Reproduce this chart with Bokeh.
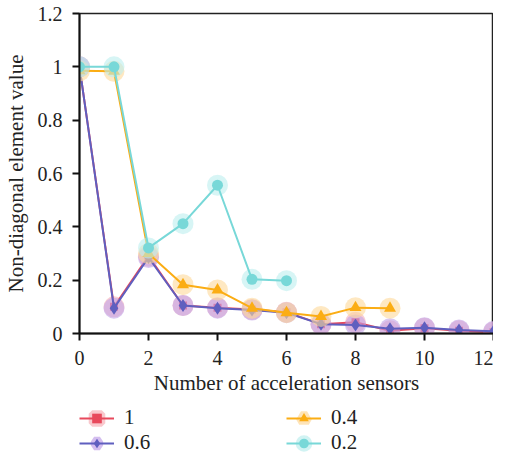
from bokeh.plotting import figure
from bokeh.layouts import column
from bokeh.models import Range1d, FixedTicker, Legend, LegendItem, ColumnDataSource
from bokeh.embed import file_html
from bokeh.resources import INLINE

# ---- data ----
x_all = [0, 1, 2, 3, 4, 5, 6, 7, 8, 9, 10, 11, 12]
y_1 = [1.0, 0.10, 0.29, 0.105, 0.097, 0.09, 0.08, 0.035, 0.042, 0.01, 0.02, 0.01, 0.005]
y_06 = [1.0, 0.095, 0.285, 0.105, 0.095, 0.088, 0.078, 0.035, 0.032, 0.018, 0.022, 0.013, 0.008]
x_04 = [0, 1, 2, 3, 4, 5, 6, 7, 8, 9]
y_04 = [0.985, 0.983, 0.30, 0.183, 0.163, 0.095, 0.078, 0.064, 0.097, 0.095]
x_02 = [0, 1, 2, 3, 4, 5, 6]
y_02 = [1.0, 1.0, 0.321, 0.412, 0.556, 0.203, 0.198]

series_labels = ["1", "0.6", "0.4", "0.2"]
x_ticks = [0, 2, 4, 6, 8, 10, 12]
x_tick_labels = ["0", "2", "4", "6", "8", "10", "12"]
y_ticks = [0, 0.2, 0.4, 0.6, 0.8, 1.0, 1.2]
y_tick_labels = ["0", "0.2", "0.4", "0.6", "0.8", "1", "1.2"]

FONT = "Liberation Serif"

p = figure(frame_width=414, frame_height=320, output_backend="svg", toolbar_location=None,
           x_range=Range1d(0, 12), y_range=Range1d(0, 1.2),
           min_border_left=77, min_border_right=0, min_border_top=13, min_border_bottom=0)
p.grid.visible = False
p.outline_line_color = "#222222"
p.outline_line_width = 1.5
p.background_fill_color = "white"
p.border_fill_color = "white"

for ax in (p.xaxis[0], p.yaxis[0]):
    ax.axis_line_color = "#111111"
    ax.axis_line_width = 2
    ax.major_tick_line_color = "#111111"
    ax.major_tick_line_width = 2
    ax.major_tick_out = 7
    ax.major_tick_in = 0
    ax.minor_tick_line_color = None
    ax.major_label_text_font = FONT
    ax.major_label_text_font_size = "20px"
    ax.major_label_text_color = "#222222"
    ax.axis_label_text_font = FONT
    ax.axis_label_text_font_size = "21px"
    ax.axis_label_text_font_style = "normal"
    ax.axis_label_text_color = "#222222"

p.xaxis[0].ticker = FixedTicker(ticks=x_ticks)
p.xaxis[0].major_label_overrides = {t: l for t, l in zip(x_ticks, x_tick_labels)}
p.yaxis[0].ticker = FixedTicker(ticks=y_ticks)
p.yaxis[0].major_label_overrides = {t: l for t, l in zip(y_ticks, y_tick_labels)}
p.xaxis[0].axis_label = "Number of acceleration sensors"
p.yaxis[0].axis_label = "Non-diagonal element value"
p.xaxis[0].major_label_standoff = 10
p.xaxis[0].axis_label_standoff = 3
p.yaxis[0].major_label_standoff = 10
p.yaxis[0].axis_label_standoff = 7

specs = [
    (x_all, y_1, "#e8495c", "#f6b0b8", "square", 8),
    (x_all, y_06, "#5f5fbf", "#c2a3e8", "diamond", 13),
    (x_04, y_04, "#fbad14", "#fdd99a", "triangle", 12),
    (x_02, y_02, "#78d8d8", "#bdeeee", "circle", 11),
]

# legend strip below the chart (its ranges keep the series out of view)
lf = figure(width=491, height=58, output_backend="svg", toolbar_location=None,
            x_range=Range1d(-30, -20), y_range=Range1d(-30, -20),
            x_axis_type=None, y_axis_type=None,
            min_border_left=77, min_border_right=0, min_border_top=8, min_border_bottom=2)
lf.grid.visible = False
lf.outline_line_color = None

items = []
for (xs, ys, col, halo, mk, ms), lab in zip(specs, series_labels):
    src = ColumnDataSource(dict(x=xs, y=ys))
    p.scatter("x", "y", source=src, marker="circle", size=21,
              fill_color=halo, fill_alpha=0.6, line_color=None)
    p.line("x", "y", source=src, line_color=col, line_width=2)
    p.scatter("x", "y", source=src, marker=mk, size=ms, fill_color=col, line_color=None)

    l_halo = lf.scatter("x", "y", source=src, marker=mk, fill_color=halo,
                        fill_alpha=0.7, line_color=halo, line_width=7, line_alpha=0.7)
    l_line = lf.line("x", "y", source=src, line_color=col, line_width=2)
    l_mk = lf.scatter("x", "y", source=src, marker=mk, fill_color=col, line_color=None)
    items.append(LegendItem(label=lab, renderers=[l_halo, l_line, l_mk]))

legend = Legend(items=items, orientation="vertical", nrows=2,
                location="top_left", glyph_width=35, glyph_height=24,
                label_standoff=10, label_width=162, spacing=0, padding=0,
                margin=0, border_line_color=None, background_fill_alpha=0,
                label_text_font=FONT, label_text_font_size="21px",
                label_text_color="#222222", label_height=24)
lf.add_layout(legend)

open("out.html", "w").write(file_html(column(p, lf, spacing=0), INLINE))
